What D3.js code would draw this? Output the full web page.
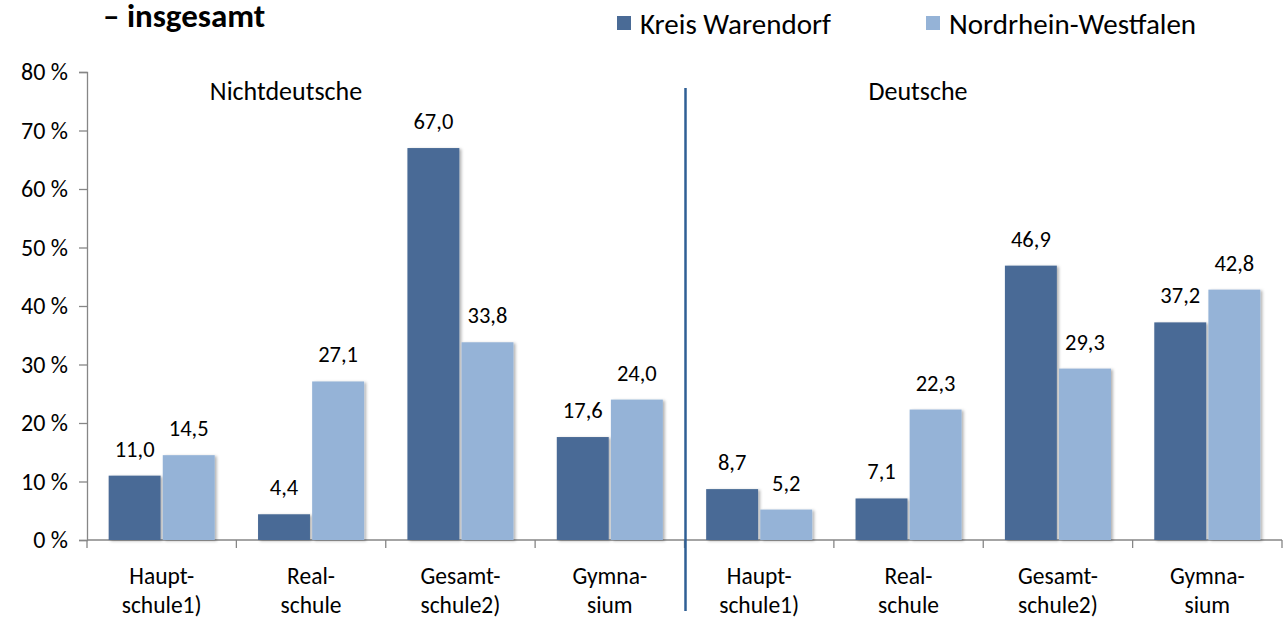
<!DOCTYPE html>
<html>
<head>
<meta charset="utf-8">
<script src="https://cdn.jsdelivr.net/npm/d3@7"></script>
<style>
  body { margin: 0; background: #fff; }
  svg { display: block; }
</style>
</head>
<body>
<div id="chart"></div>
<script>
// data
const groups = ["Nichtdeutsche", "Deutsche"];
const schools = [["Haupt-", "schule1)"], ["Real-", "schule"], ["Gesamt-", "schule2)"], ["Gymna-", "sium"]];
const series = ["Kreis Warendorf", "Nordrhein-Westfalen"];
const kreis = [11.0, 4.4, 67.0, 17.6, 8.7, 7.1, 46.9, 37.2];
const nrw = [14.5, 27.1, 33.8, 24.0, 5.2, 22.3, 29.3, 42.8];
const yTicks = [0, 10, 20, 30, 40, 50, 60, 70, 80];

const width = 1284, height = 617;
const font = "Carlito, Calibri, Lato, sans-serif";
const colors = ["#4a6b96", "#95b3d7"];

const rows = [];
groups.forEach((g, gi) => schools.forEach((s, si) => {
  const i = gi * schools.length + si;
  rows.push({ key: `${g}-${si}`, group: g, label: s, values: [kreis[i], nrw[i]] });
}));

const margin = { left: 87, right: 2, top: 72, bottom: 77 };

const x0 = d3.scaleBand()
  .domain(rows.map((d) => d.key))
  .range([margin.left, width - margin.right])
  .paddingInner(0.29)
  .paddingOuter(0.145);

const x1 = d3.scaleBand()
  .domain(series)
  .range([0, x0.bandwidth()])
  .paddingInner(0.04);

const y = d3.scaleLinear()
  .domain([0, 80])
  .range([height - margin.bottom, margin.top]);

const svg = d3.select("#chart")
  .append("svg")
  .attr("width", width)
  .attr("height", height)
  .attr("font-family", font);

const defs = svg.append("defs");
defs.append("filter")
  .attr("id", "shadow")
  .attr("x", "-10%").attr("y", "-10%")
  .attr("width", "130%").attr("height", "130%")
  .append("feDropShadow")
  .attr("dx", 2).attr("dy", 1)
  .attr("stdDeviation", 1.5)
  .attr("flood-color", "#000")
  .attr("flood-opacity", 0.3);

// title fragment (the rest sits above the cropped area)
svg.append("text")
  .attr("x", 103)
  .attr("y", 27)
  .attr("font-size", 33)
  .attr("font-weight", "bold")
  .attr("fill", "#000")
  .text("– insgesamt");

// legend
const legend = svg.append("g").attr("font-size", 29);
const legendX = [617, 926];
series.forEach((s, i) => {
  legend.append("rect")
    .attr("x", legendX[i]).attr("y", 16)
    .attr("width", 14).attr("height", 14)
    .attr("fill", colors[i]);
  legend.append("text")
    .attr("x", legendX[i] + 23)
    .attr("y", 34)
    .attr("fill", "#000")
    .text(s);
});

// y axis
const yAxis = svg.append("g")
  .attr("transform", `translate(${margin.left},0)`)
  .call(d3.axisLeft(y).tickValues(yTicks).tickSize(8).tickPadding(11).tickFormat((d) => `${d} %`));
yAxis.selectAll("path, line").attr("stroke", "#868686").attr("stroke-width", 1.3);
yAxis.selectAll("text").attr("font-size", 24).attr("font-family", font).attr("fill", "#000");

// x axis line + ticks at category boundaries
const baseY = y(0);
svg.append("line")
  .attr("x1", margin.left).attr("x2", width - margin.right)
  .attr("y1", baseY).attr("y2", baseY)
  .attr("stroke", "#868686").attr("stroke-width", 1.3);
const step = x0.step();
d3.range(rows.length + 1).forEach((i) => {
  const xx = margin.left + i * step;
  svg.append("line")
    .attr("x1", xx).attr("x2", xx)
    .attr("y1", baseY).attr("y2", baseY + 8)
    .attr("stroke", "#868686").attr("stroke-width", 1.3);
});

// bars
const barG = svg.append("g")
  .selectAll("g")
  .data(rows)
  .join("g")
  .attr("transform", (d) => `translate(${x0(d.key)},0)`);

barG.selectAll("rect")
  .data((d) => d.values.map((v, i) => ({ s: series[i], v, i })))
  .join("rect")
  .attr("x", (d) => x1(d.s))
  .attr("y", (d) => y(d.v))
  .attr("width", x1.bandwidth())
  .attr("height", (d) => baseY - y(d.v))
  .attr("fill", (d) => colors[d.i])
  .attr("filter", "url(#shadow)");

barG.selectAll("text.val")
  .data((d) => d.values.map((v, i) => ({ s: series[i], v, i })))
  .join("text")
  .attr("class", "val")
  .attr("x", (d) => x1(d.s) + x1.bandwidth() / 2)
  .attr("y", (d) => y(d.v) - 19)
  .attr("text-anchor", "middle")
  .attr("font-size", 22.5)
  .attr("fill", "#000")
  .text((d) => d.v.toFixed(1).replace(".", ","));

// category labels
barG.append("text")
  .attr("x", x0.bandwidth() / 2)
  .attr("text-anchor", "middle")
  .attr("font-size", 23.5)
  .attr("fill", "#000")
  .selectAll("tspan")
  .data((d) => d.label)
  .join("tspan")
  .attr("x", x0.bandwidth() / 2)
  .attr("y", (d, i) => 584 + i * 29)
  .text((d) => d);

// divider between groups
const divX = margin.left + schools.length * step + 1;
svg.append("line")
  .attr("x1", divX).attr("x2", divX)
  .attr("y1", 88).attr("y2", 611)
  .attr("stroke", "#2f5f95")
  .attr("stroke-width", 2.5);

// group labels
const groupCenters = [286, 918];
groups.forEach((g, i) => {
  svg.append("text")
    .attr("x", groupCenters[i])
    .attr("y", 100)
    .attr("text-anchor", "middle")
    .attr("font-size", 26)
    .attr("fill", "#000")
    .text(g);
});
</script>
</body>
</html>
